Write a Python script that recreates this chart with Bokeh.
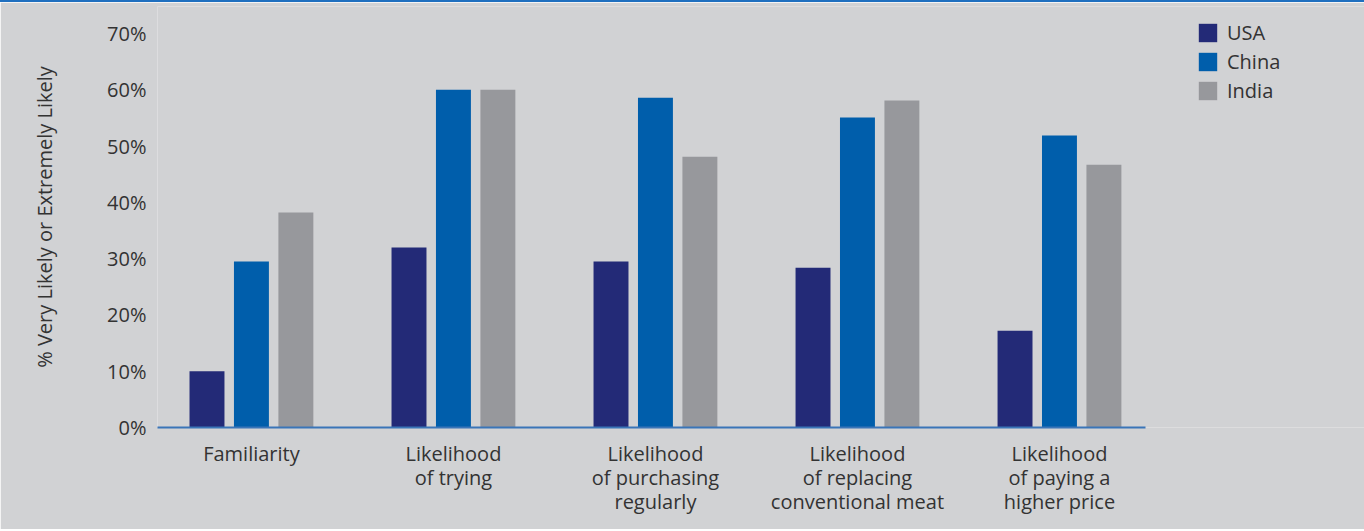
from bokeh.plotting import figure
from bokeh.models import ColumnDataSource, FixedTicker, NumeralTickFormatter, Legend, LegendItem, Range1d
from bokeh.embed import file_html
from bokeh.resources import INLINE

categories = ["Familiarity", "Likelihood\nof trying", "Likelihood\nof purchasing\nregularly",
              "Likelihood\nof replacing\nconventional meat", "Likelihood\nof paying a\nhigher price"]
usa = [0.10, 0.32, 0.295, 0.284, 0.172]
china = [0.295, 0.60, 0.586, 0.551, 0.519]
india = [0.382, 0.60, 0.481, 0.581, 0.467]
series_names = ["USA", "China", "India"]
colors = ["#232a77", "#005eab", "#97989c"]

FONT = "Open Sans"
TXT = "#333333"
BG = "#d1d2d4"

p = figure(width=1364, height=529, output_backend="svg", toolbar_location=None,
           x_range=Range1d(-0.465, 5.51), y_range=Range1d(0, 0.748),
           min_border_left=157, min_border_right=0, min_border_top=4, min_border_bottom=104)
p.styles = {"border-top": "2px solid #1f6fbf"}
p.background_fill_color = BG
p.border_fill_color = BG
p.outline_line_color = None
p.grid.visible = False

x = list(range(len(categories)))
offsets = [-0.22, 0.0, 0.22]
renderers = []
for vals, off, col in zip([usa, china, india], offsets, colors):
    src = ColumnDataSource(dict(x=[i + off for i in x], top=vals))
    r = p.vbar(x="x", top="top", width=0.173, source=src, fill_color=col, line_color=None)
    renderers.append(r)

# axes
p.xaxis.bounds = (-0.465, 4.426)
p.xaxis.ticker = FixedTicker(ticks=x)
p.xaxis.major_label_overrides = {i: c for i, c in zip(x, categories)}
p.xaxis.axis_line_color = "#3a75b8"
p.xaxis.axis_line_width = 2
p.xaxis.major_tick_line_color = None
p.xaxis.minor_tick_line_color = None
p.xaxis.major_label_text_font = FONT
p.xaxis.major_label_text_font_size = "20px"
p.xaxis.major_label_text_color = TXT
p.xaxis.major_label_text_line_height = 0.89
p.xaxis.major_label_standoff = 6

p.yaxis.ticker = FixedTicker(ticks=[0, 0.1, 0.2, 0.3, 0.4, 0.5, 0.6, 0.7])
p.yaxis.formatter = NumeralTickFormatter(format="0%")
p.yaxis.axis_line_color = None
p.yaxis.major_tick_line_color = None
p.yaxis.minor_tick_line_color = None
p.yaxis.major_label_text_font = FONT
p.yaxis.major_label_text_font_size = "20px"
p.yaxis.major_label_text_color = TXT
p.yaxis.major_label_standoff = 5
p.yaxis.axis_label = "% Very Likely or Extremely Likely"
p.yaxis.axis_label_text_font = FONT
p.yaxis.axis_label_text_font_size = "20px"
p.yaxis.axis_label_text_font_style = "normal"
p.yaxis.axis_label_text_color = TXT
p.yaxis.axis_label_standoff = 46

legend = Legend(items=[LegendItem(label=n, renderers=[r]) for n, r in zip(series_names, renderers)],
                location=(1039, 323), orientation="vertical",
                glyph_width=23, glyph_height=23, spacing=2, padding=0, margin=0,
                label_text_font=FONT, label_text_font_size="20px", label_text_color=TXT,
                label_text_line_height=0.8, label_height=23,
                label_standoff=8, border_line_color=None, background_fill_alpha=0)
p.add_layout(legend, "center")

open("out.html", "w").write(file_html(p, INLINE))
